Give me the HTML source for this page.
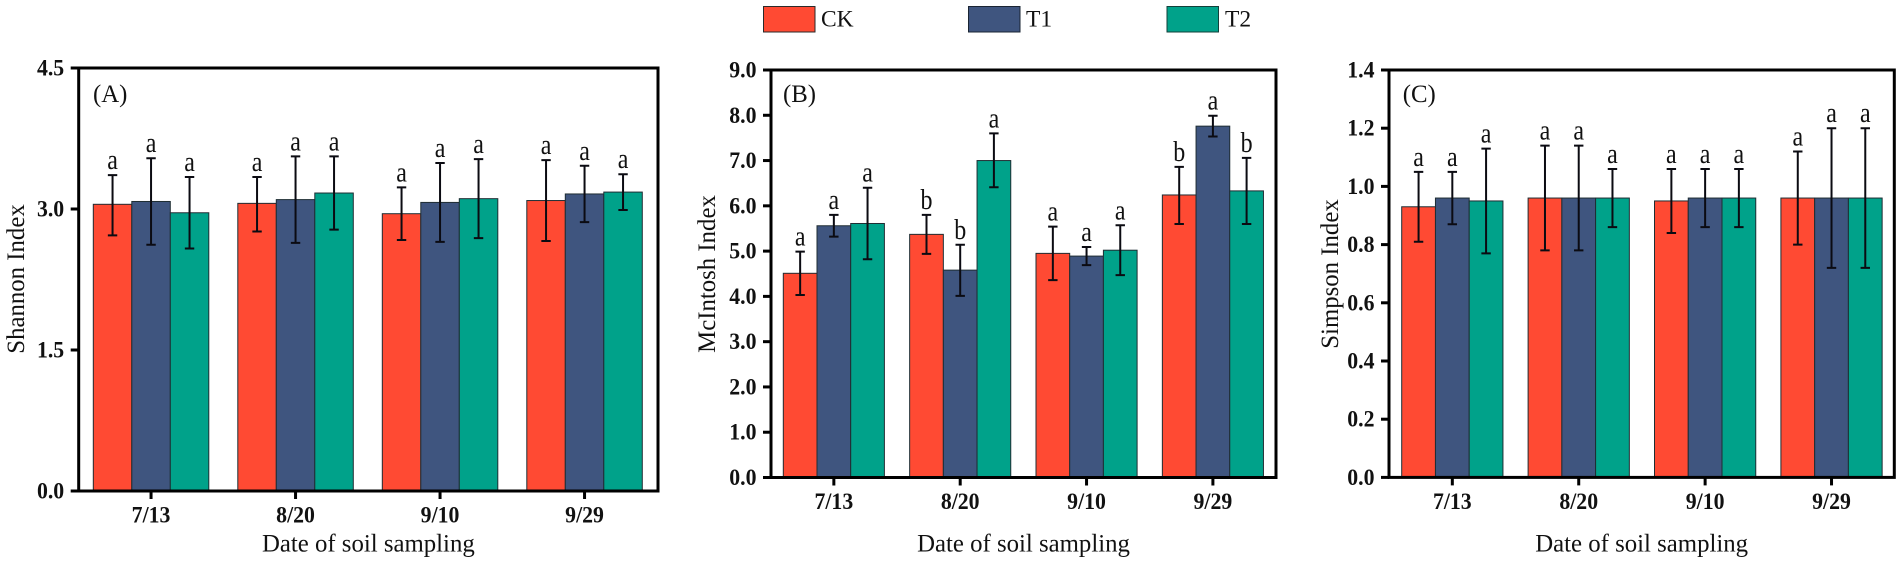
<!DOCTYPE html>
<html lang="en">
<head>
<meta charset="utf-8">
<title>Soil diversity indices</title>
<style>
html,body{margin:0;padding:0;background:#fff;}
svg{display:block;}
text{font-family:"Liberation Serif",serif;fill:#111;}
.tick{font-weight:bold;font-size:21.8px;}
.title{font-size:24.8px;}
.sig{font-size:24px;}
.leg{font-size:23.5px;}
</style>
</head>
<body>
<svg id="chart" xmlns="http://www.w3.org/2000/svg" width="1902" height="563" viewBox="0 0 1902 563">
  <g>
    <g>
      <rect x="763.5" y="6.5" width="51.5" height="25.5" fill="#FF4A33" stroke="#2a2a2a" stroke-width="1"/>
      <text class="leg" x="821" y="26.5">CK</text>
    </g>
    <g>
      <rect x="968.5" y="6.5" width="51.5" height="25.5" fill="#3F557F" stroke="#1a2433" stroke-width="1"/>
      <text class="leg" x="1026" y="26.5">T1</text>
    </g>
    <g>
      <rect x="1167" y="6.5" width="51.5" height="25.5" fill="#00A28A" stroke="#12403a" stroke-width="1"/>
      <text class="leg" x="1225" y="26.5">T2</text>
    </g>
  </g>
</svg>
<script>
const categories = ['7/13', '8/20', '9/10', '9/29'];
const seriesColors = ['#FF4A33', '#3F557F', '#00A28A'];
const seriesKeys = ['ck', 't1', 't2'];

const shannonTicks = ['0.0', '1.5', '3.0', '4.5'];
const shannonCK = [3.05, 3.06, 2.95, 3.09];
const shannonCKHigh = [3.36, 3.34, 3.23, 3.52];
const shannonCKLow = [2.72, 2.76, 2.67, 2.66];
const shannonCKSig = ['a', 'a', 'a', 'a'];
const shannonT1 = [3.08, 3.10, 3.07, 3.16];
const shannonT1High = [3.54, 3.56, 3.49, 3.46];
const shannonT1Low = [2.62, 2.64, 2.65, 2.86];
const shannonT1Sig = ['a', 'a', 'a', 'a'];
const shannonT2 = [2.96, 3.17, 3.11, 3.18];
const shannonT2High = [3.34, 3.56, 3.53, 3.37];
const shannonT2Low = [2.58, 2.78, 2.69, 2.99];
const shannonT2Sig = ['a', 'a', 'a', 'a'];

const mcintoshTicks = ['0.0', '1.0', '2.0', '3.0', '4.0', '5.0', '6.0', '7.0', '8.0', '9.0'];
const mcintoshCK = [4.51, 5.37, 4.95, 6.24];
const mcintoshCKHigh = [4.99, 5.80, 5.54, 6.86];
const mcintoshCKLow = [4.03, 4.94, 4.36, 5.60];
const mcintoshCKSig = ['a', 'b', 'a', 'b'];
const mcintoshT1 = [5.56, 4.58, 4.89, 7.76];
const mcintoshT1High = [5.80, 5.14, 5.09, 7.99];
const mcintoshT1Low = [5.32, 4.01, 4.69, 7.53];
const mcintoshT1Sig = ['a', 'b', 'a', 'a'];
const mcintoshT2 = [5.61, 7.00, 5.02, 6.33];
const mcintoshT2High = [6.40, 7.60, 5.57, 7.06];
const mcintoshT2Low = [4.82, 6.41, 4.47, 5.60];
const mcintoshT2Sig = ['a', 'a', 'a', 'b'];

const simpsonTicks = ['0.0', '0.2', '0.4', '0.6', '0.8', '1.0', '1.2', '1.4'];
const simpsonCK = [0.93, 0.96, 0.95, 0.96];
const simpsonCKHigh = [1.05, 1.14, 1.06, 1.12];
const simpsonCKLow = [0.81, 0.78, 0.84, 0.80];
const simpsonCKSig = ['a', 'a', 'a', 'a'];
const simpsonT1 = [0.96, 0.96, 0.96, 0.96];
const simpsonT1High = [1.05, 1.14, 1.06, 1.20];
const simpsonT1Low = [0.87, 0.78, 0.86, 0.72];
const simpsonT1Sig = ['a', 'a', 'a', 'a'];
const simpsonT2 = [0.95, 0.96, 0.96, 0.96];
const simpsonT2High = [1.13, 1.06, 1.06, 1.20];
const simpsonT2Low = [0.77, 0.86, 0.86, 0.72];
const simpsonT2Sig = ['a', 'a', 'a', 'a'];

const SVG_NS = 'http://www.w3.org/2000/svg';
const root = document.getElementById('chart');

function make(parent, tag, attrs, txt) {
  const el = document.createElementNS(SVG_NS, tag);
  for (const k in attrs) el.setAttribute(k, attrs[k]);
  if (txt !== undefined) el.textContent = txt;
  parent.appendChild(el);
  return el;
}

function drawPanel(p) {
  const g = make(root, 'g', {});
  
  

  const yMax = parseFloat(p.ticks[p.ticks.length - 1]);
  const y = v => p.bottom - (v / yMax) * (p.bottom - p.top);
  const barX = (c, s) => p.firstBar + c * p.groupStep + s * p.barW;

  p.series.forEach((s, si) => {
    categories.forEach((cat, ci) => {
      const bar = make(g, 'rect', {
        x: barX(ci, si), y: y(s.mean[ci]),
        width: p.barW, height: p.bottom - y(s.mean[ci]),
        fill: seriesColors[si], stroke: '#1f2d33', 'stroke-width': 1
      });
      
      
    });
  });

  p.series.forEach((s, si) => {
    categories.forEach((cat, ci) => {
      const cx = barX(ci, si) + p.barW / 2;
      const hi = y(s.high[ci]);
      const lo = y(s.low[ci]);
      const eb = make(g, 'path', {
        d: 'M' + (cx - 4.7) + ' ' + hi + 'H' + (cx + 4.7) +
           'M' + cx + ' ' + hi + 'V' + lo +
           'M' + (cx - 4.7) + ' ' + lo + 'H' + (cx + 4.7),
        fill: 'none', stroke: '#0b0b12', 'stroke-width': 2
      });
      
      
      const sig = make(g, 'text', {
        class: 'sig', 'text-anchor': 'middle',
        transform: 'translate(' + cx + ' ' + (hi - 6) + ') scale(1 1.18)'
      }, s.sig[ci]);
      
      
    });
  });

  const frame = make(g, 'rect', {
    x: p.left, y: p.top, width: p.right - p.left, height: p.bottom - p.top,
    fill: 'none', stroke: '#000', 'stroke-width': 3
  });
  
  

  p.ticks.forEach(t => {
    const v = parseFloat(t);
    const tk = make(g, 'line', {
      x1: p.left - 8, x2: p.left, y1: y(v), y2: y(v),
      stroke: '#000', 'stroke-width': 3
    });
    
    
    const lb = make(g, 'text', {
      class: 'tick', 'text-anchor': 'end',
      transform: 'translate(' + (p.left - 14.5) + ' ' + (y(v) + 7.5) + ') scale(1 1.08)'
    }, t);
    
    
  });

  categories.forEach((cat, ci) => {
    const cx = p.firstBar + ci * p.groupStep + p.barW * 1.5;
    const tk = make(g, 'line', {
      x1: cx, x2: cx, y1: p.bottom, y2: p.bottom + 8,
      stroke: '#000', 'stroke-width': 3
    });
    
    
    const lb = make(g, 'text', {
      class: 'tick', 'text-anchor': 'middle',
      transform: 'translate(' + cx + ' ' + (p.bottom + 31.5) + ') scale(1 1.08)'
    }, cat);
    
    
  });

  const xt = make(g, 'text', {
    class: 'title', x: (p.left + p.right) / 2, y: 551.5, 'text-anchor': 'middle'
  }, 'Date of soil sampling');
  
  

  const yt = make(g, 'text', {
    class: 'title', 'text-anchor': 'middle',
    transform: 'translate(' + p.titleX + ' ' + p.titleY + ') rotate(-90)'
  }, p.yTitle);
  
  

  const tag = make(g, 'text', { class: 'title', x: p.tagX, y: p.tagY }, p.tag);
  
  
}

drawPanel({
  id: 'a', tag: '(A)', yTitle: 'Shannon Index', ticks: shannonTicks,
  left: 78.7, right: 658, top: 68, bottom: 491,
  firstBar: 93.3, groupStep: 144.5, barW: 38.5,
  titleX: 24, titleY: 279, tagX: 93, tagY: 102,
  series: [
    { mean: shannonCK, high: shannonCKHigh, low: shannonCKLow, sig: shannonCKSig },
    { mean: shannonT1, high: shannonT1High, low: shannonT1Low, sig: shannonT1Sig },
    { mean: shannonT2, high: shannonT2High, low: shannonT2Low, sig: shannonT2Sig }
  ]
});
drawPanel({
  id: 'b', tag: '(B)', yTitle: 'McIntosh Index', ticks: mcintoshTicks,
  left: 771, right: 1276, top: 70, bottom: 477.5,
  firstBar: 783.3, groupStep: 126.35, barW: 33.7,
  titleX: 715, titleY: 274, tagX: 783, tagY: 102,
  series: [
    { mean: mcintoshCK, high: mcintoshCKHigh, low: mcintoshCKLow, sig: mcintoshCKSig },
    { mean: mcintoshT1, high: mcintoshT1High, low: mcintoshT1Low, sig: mcintoshT1Sig },
    { mean: mcintoshT2, high: mcintoshT2High, low: mcintoshT2Low, sig: mcintoshT2Sig }
  ]
});
drawPanel({
  id: 'c', tag: '(C)', yTitle: 'Simpson Index', ticks: simpsonTicks,
  left: 1389, right: 1894.3, top: 70, bottom: 477.4,
  firstBar: 1401.7, groupStep: 126.4, barW: 33.75,
  titleX: 1338, titleY: 274, tagX: 1402.7, tagY: 102,
  series: [
    { mean: simpsonCK, high: simpsonCKHigh, low: simpsonCKLow, sig: simpsonCKSig },
    { mean: simpsonT1, high: simpsonT1High, low: simpsonT1Low, sig: simpsonT1Sig },
    { mean: simpsonT2, high: simpsonT2High, low: simpsonT2Low, sig: simpsonT2Sig }
  ]
});
</script>
</body>
</html>
